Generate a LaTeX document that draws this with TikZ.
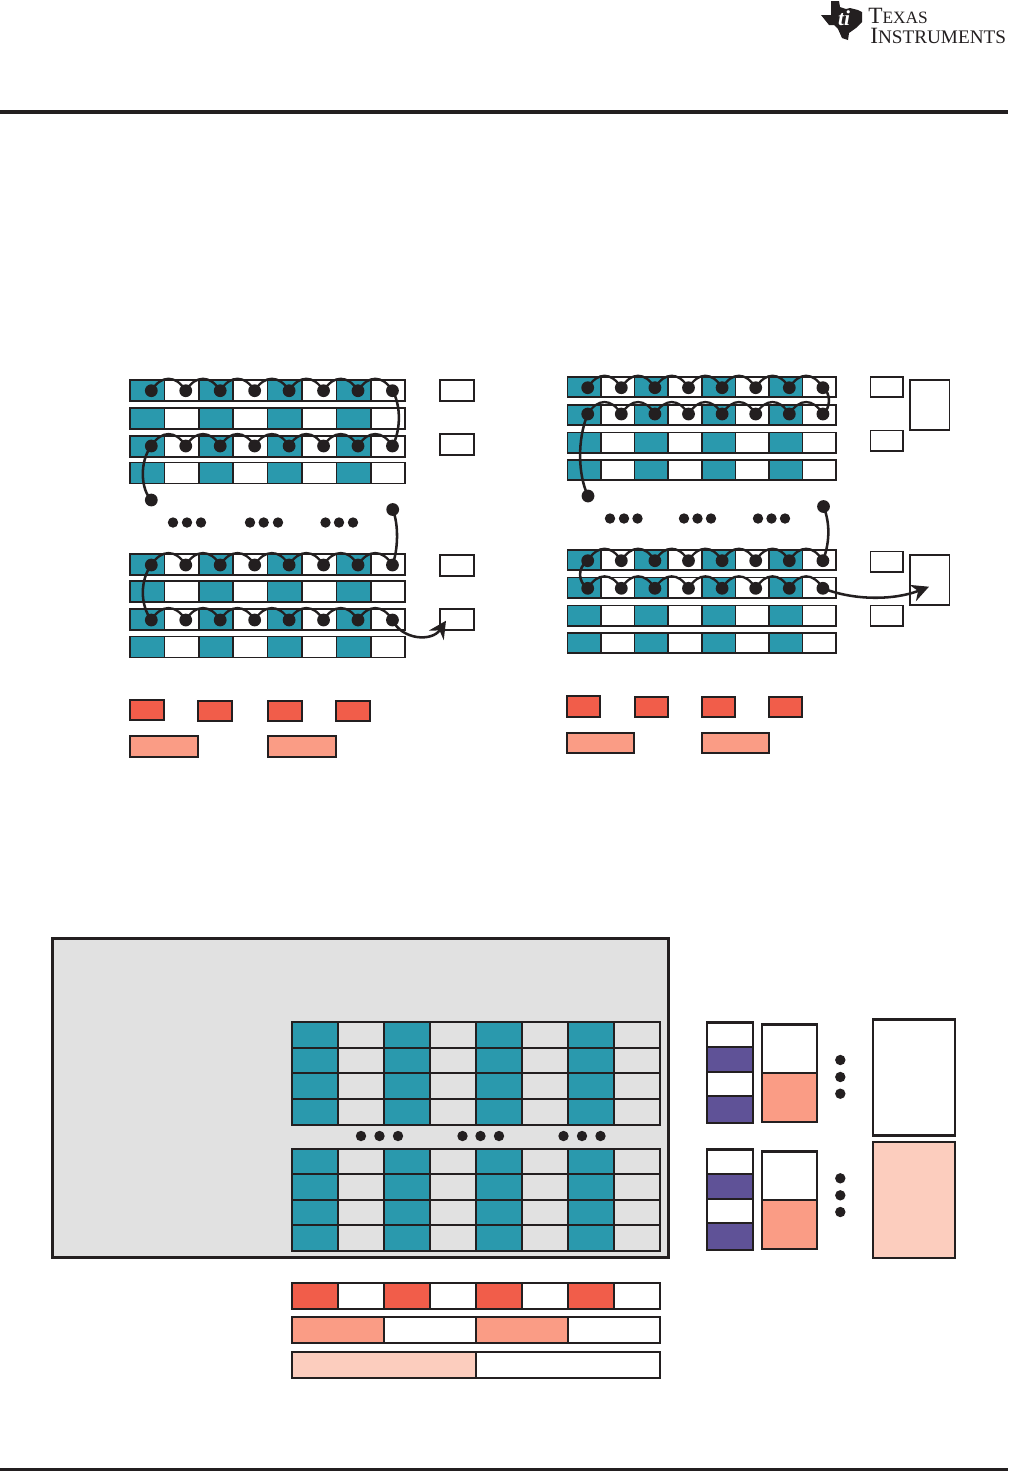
\documentclass[tikz,border=0pt]{standalone}
\usepackage{fontspec}
\usepackage{xcolor}
\usetikzlibrary{arrows.meta,positioning,calc}
\newfontfamily\logofont{Liberation Serif}
\definecolor{inkc}{HTML}{231F20}
\definecolor{tealc}{HTML}{2A99AD}
\definecolor{redc}{HTML}{F15D4A}
\definecolor{salmonc}{HTML}{FA9C85}
\definecolor{peachc}{HTML}{FCCDBE}
\definecolor{purplec}{HTML}{5F5297}
\definecolor{panelc}{HTML}{E1E1E1}

\begin{document}
\begin{tikzpicture}[x=0.75pt,y=-0.75pt]
    % Define node styles
    \tikzstyle{box}=[draw=inkc, line width=1.3pt, inner sep=0pt, outer sep=0pt]
    \tikzstyle{leftcell}=[box, minimum width=25.8pt, minimum height=15.8pt]
    \tikzstyle{rightcell}=[box, minimum width=25.2pt, minimum height=15.2pt]
    \tikzstyle{gridcell}=[box, line width=1.6pt, minimum width=34.5pt, minimum height=18.9pt]
    \tikzstyle{dot}=[circle, fill=inkc, inner sep=0pt, minimum size=9.6pt]
    \tikzstyle{smalldot}=[circle, fill=inkc, inner sep=0pt, minimum size=7.8pt]
    \tikzstyle{link}=[draw=inkc, line width=1.9pt]
    \tikzstyle{hop}=[link, line width=1.7pt]
    \useasboundingbox (0,0) rectangle (1008,1472);

    % Header and footer rules
    \coordinate (HL) at (0,112);
    \coordinate (HR) at (1008,112);
    \coordinate (FL) at (0,1469.5);
    \coordinate (FR) at (1008,1469.5);
    \draw[inkc, line width=2.4pt] (HL) -- (HR);
    \draw[inkc, line width=1.8pt] (FL) -- (FR);

    % Logo
    \fill[inkc] (831,1) -- (839,1) -- (840,7) -- (846,9) -- (850,8) -- (858,10) -- (862,12) -- (862,22)
        -- (856,28) -- (849,33) -- (848,40) -- (842,38) -- (838,29) -- (834,25) -- (829,25) -- (825,20) -- (821,15) -- (831,15) -- cycle;
    \node[text=white, font=\logofont\bfseries\itshape\fontsize{16}{16}\selectfont, inner sep=0pt] (logoti) at (844,18) {ti};
    \node[anchor=north west, inner sep=0pt, text=inkc, align=left, font=\logofont\fontsize{17.5}{14.7}\selectfont] (logo) at (868,8) {T{\fontsize{13}{13}\selectfont EXAS}\\\hspace*{1.5pt}I{\fontsize{14.4}{14.4}\selectfont NSTRUMENTS}};

    % Left memory rows
    \foreach \r/\ypos in {1/390.5,2/418.5,3/446.3,4/473,5/564.5,6/591.6,7/619.5,8/647} {
        \foreach \c in {0,2,4,6} {
            \node[leftcell, fill=tealc] (L-\r-\c) at (147.2+34.4*\c,\ypos) {};
        }
        \foreach \c in {1,3,5,7} {
            \node[leftcell, fill=white] (L-\r-\c) at (147.2+34.4*\c,\ypos) {};
        }
    }

    % Right memory rows
    \foreach \r/\ypos in {1/387,2/415,3/442.7,4/470,5/560.2,6/587.7,7/615.7,8/643} {
        \foreach \c in {0,2,4,6} {
            \node[rightcell, fill=tealc] (R-\r-\c) at (584.2+33.6*\c,\ypos) {};
        }
        \foreach \c in {1,3,5,7} {
            \node[rightcell, fill=white] (R-\r-\c) at (584.2+33.6*\c,\ypos) {};
        }
    }

    % Side boxes
    \foreach \i/\ypos in {1/390.5,2/444.5,3/565.5,4/619.5} {
        \node[box, minimum width=25.5pt, minimum height=15.8pt] (LS-\i) at (457,\ypos) {};
    }
    \foreach \i/\ypos in {1/387,2/440.7,3/561.5,4/615.7} {
        \node[box, minimum width=24.3pt, minimum height=15.2pt] (RS-\i) at (886.7,\ypos) {};
    }
    \foreach \i/\ypos in {1/405,2/580} {
        \node[box, minimum width=29.5pt, minimum height=37.5pt] (RB-\i) at (929.7,\ypos) {};
    }

    % Dots on the left rows
    \foreach \r/\ypos in {1/390.7,2/446,3/565,4/620} {
        \foreach \c in {1,...,8} {
            \node[dot] (LD-\r-\c) at (151.3+34.45*\c-34.45,\ypos) {};
        }
        \foreach \c [evaluate=\c as \n using int(\c+1)] in {1,...,7} {
            \draw[hop] (LD-\r-\c.center) .. controls +(10,-16) and +(-10,-16) .. (LD-\r-\n.center);
        }
    }
    \node[dot] (LA) at (151.3,500) {};
    \node[dot] (LB) at (392.7,509.5) {};

    % Dots on the right rows
    \foreach \r/\ypos in {1/387.7,2/414,3/560.7,4/588.3} {
        \foreach \c in {1,...,8} {
            \node[dot] (RD-\r-\c) at (587.7+33.6*\c-33.6,\ypos) {};
        }
        \foreach \c [evaluate=\c as \n using int(\c+1)] in {1,...,7} {
            \draw[hop] (RD-\r-\c.center) .. controls +(10,-16) and +(-10,-16) .. (RD-\r-\n.center);
        }
    }
    \node[dot] (RA) at (588,496) {};
    \node[dot] (RC) at (823.5,506.5) {};

    % Ellipsis dots
    \foreach \i/\xpos in {1/173,2/187,3/201,4/250,5/263.7,6/278,7/325.5,8/339,9/353} {
        \node[smalldot] (LE-\i) at (\xpos,522.5) {};
    }
    \foreach \i/\xpos in {1/610,2/624,3/637.5,4/684,5/697.5,6/711,7/758,8/771.5,9/785} {
        \node[smalldot] (RE-\i) at (\xpos,518.5) {};
    }

    % Connect left rows
    \coordinate (tipL) at (446,620.7);
    \draw[link] (LD-1-8.center) .. controls (401,405) and (401,430) .. (LD-2-8.center);
    \draw[link] (LD-2-1.center) .. controls (139,462) and (141,490) .. (LA.center);
    \draw[link] (LB.center) .. controls (399,525) and (398,550) .. (LD-3-8.center);
    \draw[link] (LD-3-1.center) .. controls (140,580) and (140,605) .. (LD-4-1.center);
    \draw[link, -{Stealth[length=13pt,width=13pt]}] (LD-4-8.center) .. controls (402,640) and (432,642) .. (tipL);

    % Connect right rows
    \coordinate (tipR) at (929,586.7);
    \draw[link] (RD-1-8.center) .. controls (831,393) and (831,408) .. (RD-2-8.center);
    \draw[link] (RD-2-1.center) .. controls (577,440) and (578,475) .. (RA.center);
    \draw[link] (RC.center) .. controls (831,525) and (829,545) .. (RD-3-8.center);
    \draw[link] (RD-3-1.center) .. controls (577,568) and (578,582) .. (RD-4-1.center);
    \draw[link, -{Stealth[length=13pt,width=13pt]}] (RD-4-8.center) .. controls (855,601) and (895,600) .. (tipR);

    % Red and salmon boxes under the left rows
    \foreach \i/\xpos/\ypos in {1/147/710,2/215/711,3/285/711,4/353.2/711} {
        \node[box, fill=redc, minimum width=25.5pt, minimum height=15.5pt] (LR-\i) at (\xpos,\ypos) {};
    }
    \foreach \i/\xpos in {1/163.7,2/302} {
        \node[box, fill=salmonc, minimum width=51pt, minimum height=16pt] (LP-\i) at (\xpos,746.5) {};
    }

    % Red and salmon boxes under the right rows
    \foreach \i/\xpos/\ypos in {1/583.5/706.5,2/651.5/707,3/718.5/707,4/785.3/707} {
        \node[box, fill=redc, minimum width=24.8pt, minimum height=15.5pt] (RR-\i) at (\xpos,\ypos) {};
    }
    \foreach \i/\xpos in {1/600.5,2/735.5} {
        \node[box, fill=salmonc, minimum width=50pt, minimum height=15pt] (RP-\i) at (\xpos,742.7) {};
    }

    % Grey panel
    \node[box, fill=panelc, line width=2.3pt, minimum width=462pt, minimum height=239.5pt] (panel) at (360.7,1097.7) {};

    % Grid inside the panel
    \foreach \r/\ypos in {1/1035,2/1060.5,3/1086,4/1112,5/1162,6/1187,7/1212.5,8/1238} {
        \foreach \c in {0,2,4,6} {
            \node[gridcell, fill=tealc] (G-\r-\c) at (315+46*\c,\ypos) {};
        }
        \foreach \c in {1,3,5,7} {
            \node[gridcell, fill=panelc] (G-\r-\c) at (315+46*\c,\ypos) {};
        }
    }
    \foreach \i/\xpos in {1/361,2/379.5,3/398,4/462.5,5/480.5,6/499,7/563.5,8/582,9/600.5} {
        \node[smalldot] (GE-\i) at (\xpos,1136) {};
    }

    % Bars under the panel
    \foreach \c in {0,2,4,6} {
        \node[gridcell, fill=redc] (BA-\c) at (315+46*\c,1296) {};
    }
    \foreach \c in {1,3,5,7} {
        \node[gridcell, fill=white] (BA-\c) at (315+46*\c,1296) {};
    }
    \foreach \c in {0,2} {
        \node[gridcell, fill=salmonc, minimum width=69pt] (BB-\c) at (338+92*\c,1330) {};
    }
    \foreach \c in {1,3} {
        \node[gridcell, fill=white, minimum width=69pt] (BB-\c) at (338+92*\c,1330) {};
    }
    \node[gridcell, fill=peachc, minimum width=138pt] (BC-1) at (384,1365) {};
    \node[gridcell, fill=white, minimum width=138pt] (BC-2) at (568,1365) {};

    % Right stacks
    \foreach \s/\ypos in {1/1022.5,2/1149.5} {
        \node[box, fill=white, line width=1.6pt, minimum width=34.5pt, minimum height=18.2pt, anchor=north] (SA-\s) at (730,\ypos) {};
        \node[box, fill=purplec, line width=1.6pt, minimum width=34.5pt, minimum height=19pt, below=0pt of SA-\s] (SB-\s) {};
        \node[box, fill=white, line width=1.6pt, minimum width=34.5pt, minimum height=18.2pt, below=0pt of SB-\s] (SC-\s) {};
        \node[box, fill=purplec, line width=1.6pt, minimum width=34.5pt, minimum height=20pt, below=0pt of SC-\s] (SD-\s) {};
        \node[box, fill=white, line width=1.6pt, minimum width=41pt, minimum height=36.5pt, anchor=north] (ST-\s) at (789.5,\ypos+2) {};
        \node[box, fill=salmonc, line width=1.6pt, minimum width=41pt, minimum height=36.5pt, below=0pt of ST-\s] (SU-\s) {};
    }
    \foreach \i/\ypos in {1/1060,2/1077,3/1093.7,4/1178.3,5/1195.3,6/1212} {
        \node[smalldot] (SE-\i) at (840.3,\ypos) {};
    }
    \node[box, fill=white, line width=1.7pt, minimum width=61.5pt, minimum height=87pt] (TopBig) at (914.2,1077.5) {};
    \node[box, fill=peachc, line width=1.7pt, minimum width=61.5pt, minimum height=87pt] (LowBig) at (914.2,1200) {};
\end{tikzpicture}
\end{document}
